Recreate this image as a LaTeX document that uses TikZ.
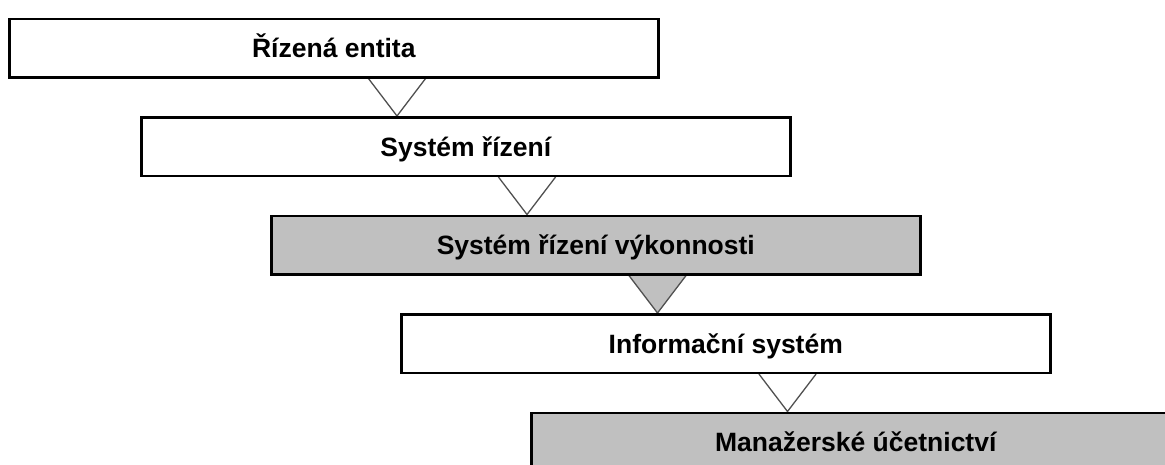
\documentclass[tikz,border=0pt]{standalone}
\usepackage{fontspec}
\setmainfont{Liberation Sans}
\usetikzlibrary{calc,backgrounds}
\definecolor{boxgray}{HTML}{C0C0C0}
\definecolor{triline}{HTML}{505050}
\tikzset{
  levelbox/.style={draw=black, line width=2.6pt, rectangle, inner sep=0pt,
    minimum width=649pt, minimum height=58.5pt, anchor=north west},
  whitebox/.style={levelbox, fill=white},
  graybox/.style={levelbox, fill=boxgray},
  boxlabel/.style={anchor=base, inner sep=0pt,
    font=\fontsize{26.5}{30}\selectfont\bfseries},
  tri/.style={draw=triline, line width=1.3pt, line join=miter},
}
\begin{document}
\begin{tikzpicture}[x=1pt,y=-1pt]
\useasboundingbox (0,0) rectangle (1165,464);
\clip (0,0) rectangle (1165,464);
\node[whitebox] (b1) at (8,17.5) {};
\node[whitebox] (b2) at (140,116) {};
\node[graybox]  (b3) at (270,214.5) {};
\node[whitebox] (b4) at (400,313) {};
\node[graybox]  (b5) at (530,411.5) {};
\node[boxlabel] (t1) at ($(b1.center)+(0,9.5)$) {Řízená entita};
\node[boxlabel] (t2) at ($(b2.center)+(0,9.5)$) {Systém řízení};
\node[boxlabel] (t3) at ($(b3.center)+(0,9.5)$) {Systém řízení výkonnosti};
\node[boxlabel] (t4) at ($(b4.center)+(0,9.5)$) {Informační systém};
\node[boxlabel] (t5) at ($(b5.center)+(0,9.5)$) {Manažerské účetnictví};
\coordinate (a1) at ($(b2.north west)+(257,0)$);
\coordinate (a2) at ($(b3.north west)+(257,0)$);
\coordinate (a3) at ($(b4.north west)+(257.5,0)$);
\coordinate (a4) at ($(b5.north west)+(257.5,0)$);
\begin{scope}[on background layer]
\draw[tri, fill=white] ($(a1 |- b1.south)+(-28.5,0)$) -- (a1) -- ($(a1 |- b1.south)+(28.5,0)$);
\draw[tri, fill=white] ($(a2 |- b2.south)+(-28.5,0)$) -- (a2) -- ($(a2 |- b2.south)+(28.5,0)$);
\draw[tri, fill=boxgray] ($(a3 |- b3.south)+(-28.5,0)$) -- (a3) -- ($(a3 |- b3.south)+(28.5,0)$);
\draw[tri, fill=white] ($(a4 |- b4.south)+(-28.5,0)$) -- (a4) -- ($(a4 |- b4.south)+(28.5,0)$);
\end{scope}
\end{tikzpicture}
\end{document}
